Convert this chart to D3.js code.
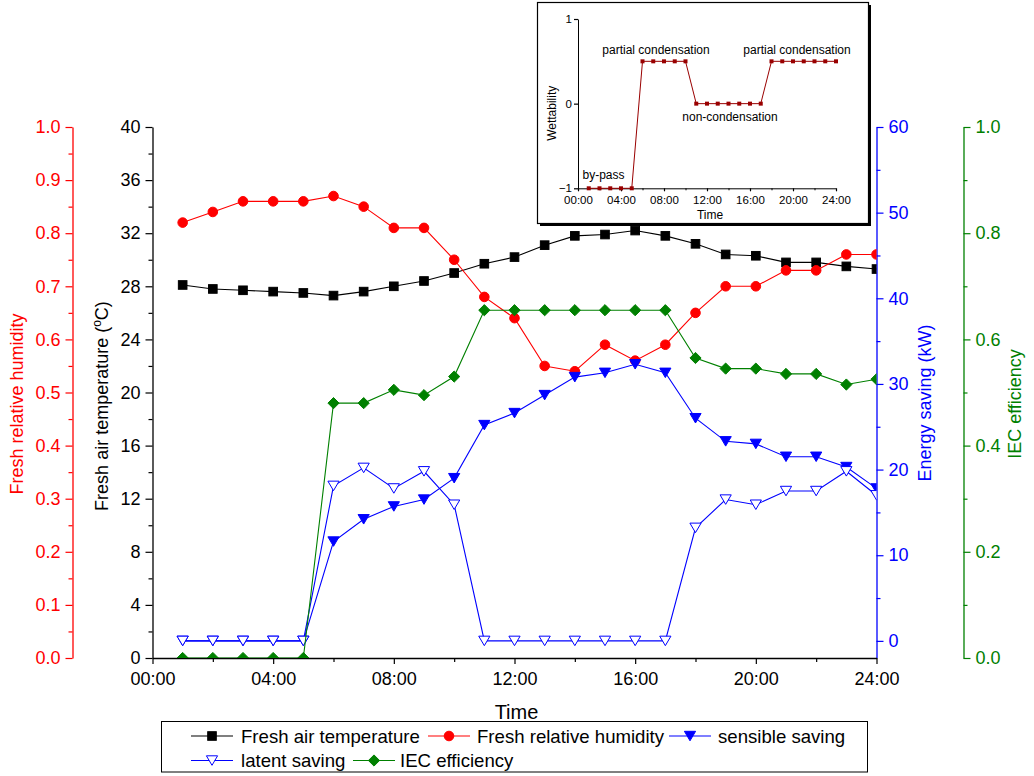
<!DOCTYPE html>
<html>
<head>
<meta charset="utf-8">
<script src="https://cdn.jsdelivr.net/npm/d3@7"></script>
<style>
  html, body { margin: 0; padding: 0; background: #fff; }
  svg { display: block; font-family: "Liberation Sans", Arial, sans-serif; }
</style>
</head>
<body>
<svg id="chart" width="1034" height="776"></svg>
<script>
// Hourly operating data (hour of day)
const hours = [1, 2, 3, 4, 5, 6, 7, 8, 9, 10, 11, 12, 13, 14, 15, 16, 17, 18, 19, 20, 21, 22, 23, 24];
const freshTemp = [28.1, 27.8, 27.7, 27.6, 27.5, 27.3, 27.6, 28.0, 28.4, 29.0, 29.7, 30.2, 31.1, 31.8, 31.9, 32.2, 31.8, 31.2, 30.4, 30.3, 29.8, 29.8, 29.5, 29.3];
const freshRH = [0.82, 0.84, 0.86, 0.86, 0.86, 0.87, 0.85, 0.81, 0.81, 0.75, 0.68, 0.64, 0.55, 0.54, 0.59, 0.56, 0.59, 0.65, 0.70, 0.70, 0.73, 0.73, 0.76, 0.76];
const sensibleSaving = [0, 0, 0, 0, 0, 11.6, 14.2, 15.7, 16.5, 19.0, 25.2, 26.6, 28.7, 30.8, 31.3, 32.3, 31.3, 26.0, 23.3, 23.0, 21.5, 21.5, 20.3, 17.8];
const latentSaving = [0, 0, 0, 0, 0, 18.1, 20.2, 17.8, 19.8, 15.9, 0, 0, 0, 0, 0, 0, 0, 13.2, 16.5, 15.9, 17.5, 17.5, 19.8, 17.0];
const iecEfficiency = [0, 0, 0, 0, 0, 0.48, 0.48, 0.505, 0.495, 0.53, 0.655, 0.655, 0.655, 0.655, 0.655, 0.655, 0.655, 0.565, 0.545, 0.545, 0.535, 0.535, 0.515, 0.525];
const wettability = [-1, -1, -1, -1, -1, 0.5, 0.5, 0.5, 0.5, 0.5, 0, 0, 0, 0, 0, 0, 0, 0.5, 0.5, 0.5, 0.5, 0.5, 0.5, 0.5];

// Tick values
const timeTicks = [0, 4, 8, 12, 16, 20, 24];
const tempTicks = [0, 4, 8, 12, 16, 20, 24, 28, 32, 36, 40];
const rhTicks = [0, 0.1, 0.2, 0.3, 0.4, 0.5, 0.6, 0.7, 0.8, 0.9, 1.0];
const energyTicks = [0, 10, 20, 30, 40, 50, 60];
const iecTicks = [0, 0.2, 0.4, 0.6, 0.8, 1.0];
const wetTicks = [-1, 0, 1];

const svg = d3.select("#chart");
const fmtTime = h => String(h).padStart(2, "0") + ":00";

// Main plot frame
const P = { left: 152.5, right: 876.5, top: 127, bottom: 658 };
const x = d3.scaleLinear().domain([0, 24]).range([P.left, P.right]);
const yT = d3.scaleLinear().domain([0, 40]).range([P.bottom, P.top]);
const yRH = d3.scaleLinear().domain([0, 1]).range([P.bottom, P.top]);
const yE = d3.scaleLinear().domain([-2, 60]).range([P.bottom, P.top]);
const yI = d3.scaleLinear().domain([0, 1]).range([P.bottom, P.top]);

svg.append("defs").append("clipPath").attr("id", "plotClip")
  .append("rect").attr("x", P.left).attr("y", P.top)
  .attr("width", P.right - P.left).attr("height", P.bottom - P.top);

function styleAxis(g, color, size) {
  g.select(".domain").attr("stroke", color).attr("stroke-width", 1.3);
  g.selectAll(".tick line").attr("stroke", color).attr("stroke-width", 1.2);
  g.selectAll(".tick text").attr("fill", color).style("font-size", size + "px")
    .style("font-family", '"Liberation Sans", Arial, sans-serif');
}
function minorBetween(ticks) {
  const out = [];
  for (let i = 0; i < ticks.length - 1; i++) out.push((ticks[i] + ticks[i + 1]) / 2);
  return out;
}

function addAxis(axisFn, scale, ticks, fmt, tx, ty, color, size, pad, major, minor, minorTicks) {
  const gMin = svg.append("g").attr("transform", `translate(${tx},${ty})`)
    .call(axisFn(scale).tickValues(minorTicks).tickSize(minor).tickFormat(""));
  styleAxis(gMin, color, size);
  gMin.select(".domain").remove();
  const g = svg.append("g").attr("transform", `translate(${tx},${ty})`)
    .call(axisFn(scale).tickValues(ticks).tickSize(major).tickSizeOuter(0).tickPadding(pad).tickFormat(fmt));
  styleAxis(g, color, size);
  return g;
}

// Left axes: temperature (black) and relative humidity (red)
addAxis(d3.axisLeft, yT, tempTicks, d3.format("d"), P.left, 0, "#000", 18, 5, 7, 4, minorBetween(tempTicks));
addAxis(d3.axisLeft, yRH, rhTicks, d3.format(".1f"), 72.5, 0, "#ff0000", 18, 5, 7, 4, minorBetween(rhTicks));
// Right axes: energy saving (blue) and IEC efficiency (green)
addAxis(d3.axisRight, yE, energyTicks, d3.format("d"), P.right, 0, "#0000ff", 18, 5, 7, 4, minorBetween(energyTicks));
addAxis(d3.axisRight, yI, iecTicks, d3.format(".1f"), 963.5, 0, "#008000", 18, 5, 7, 4, minorBetween(iecTicks));
// Bottom time axis
addAxis(d3.axisBottom, x, timeTicks, fmtTime, 0, P.bottom, "#000", 18, 8, 6, 4, minorBetween(timeTicks));

// Axis titles
function vTitle(tx, ty, color, build) {
  const t = svg.append("text").attr("transform", `translate(${tx},${ty}) rotate(-90)`)
    .attr("text-anchor", "middle").attr("fill", color).style("font-size", "18px");
  build(t);
}
vTitle(23, 404, "#ff0000", t => t.text("Fresh relative humidity"));
vTitle(108, 406, "#000", t => {
  t.append("tspan").text("Fresh air temperature (");
  t.append("tspan").attr("baseline-shift", "super").style("font-size", "12px").text("o");
  t.append("tspan").text("C)");
});
vTitle(931, 403, "#0000ff", t => t.text("Energy saving (kW)"));
vTitle(1021, 404, "#008000", t => t.text("IEC efficiency"));
svg.append("text").attr("x", (P.left + P.right) / 2 + 2).attr("y", 719)
  .attr("text-anchor", "middle").style("font-size", "20px").text("Time");

// Marker shapes
const markers = {
  square: g => g.append("rect").attr("x", -4.3).attr("y", -4.3).attr("width", 8.6).attr("height", 8.6),
  circle: g => g.append("circle").attr("r", 4.8),
  triDown: g => g.append("path").attr("d", "M-5.6,-4.7L5.6,-4.7L0,4.8Z"),
  diamond: g => g.append("path").attr("d", "M0,-5.6L5.6,0L0,5.6L-5.6,0Z")
};

const series = [
  { name: "Fresh air temperature", values: freshTemp, y: yT, color: "#000000", marker: "square", fill: "#000000" },
  { name: "Fresh relative humidity", values: freshRH, y: yRH, color: "#ff0000", marker: "circle", fill: "#ff0000" },
  { name: "sensible saving", values: sensibleSaving, y: yE, color: "#0000ff", marker: "triDown", fill: "#0000ff" },
  { name: "latent saving", values: latentSaving, y: yE, color: "#0000ff", marker: "triDown", fill: "#ffffff" },
  { name: "IEC efficiency", values: iecEfficiency, y: yI, color: "#008000", marker: "diamond", fill: "#008000" }
];

const plot = svg.append("g").attr("clip-path", "url(#plotClip)");
series.forEach(s => {
  const pts = hours.map((h, i) => [h, s.values[i]]);
  const g = plot.append("g");
  g.append("path").datum(pts)
    .attr("fill", "none").attr("stroke", s.color).attr("stroke-width", 1.1)
    .attr("d", d3.line().x(d => x(d[0])).y(d => s.y(d[1])));
  pts.forEach(d => {
    const m = g.append("g").attr("transform", `translate(${x(d[0])},${s.y(d[1])})`);
    markers[s.marker](m).attr("fill", s.fill).attr("stroke", s.color).attr("stroke-width", 1);
  });
});

// Legend
const legend = svg.append("g");
legend.append("rect").attr("x", 161.5).attr("y", 721.5).attr("width", 706).attr("height", 50.5)
  .attr("fill", "#fff").attr("stroke", "#000").attr("stroke-width", 1);
const legendPos = [
  { cx: 212, tx: 241, cy: 736 },
  { cx: 449, tx: 477, cy: 736 },
  { cx: 690, tx: 718, cy: 736 },
  { cx: 212, tx: 241, cy: 760.5 },
  { cx: 374, tx: 400, cy: 760.5 }
];
series.forEach((s, i) => {
  const p = legendPos[i];
  legend.append("line").attr("x1", p.cx - 21).attr("x2", p.cx + 21).attr("y1", p.cy).attr("y2", p.cy)
    .attr("stroke", s.color).attr("stroke-width", 1.1);
  const m = legend.append("g").attr("transform", `translate(${p.cx},${p.cy})`);
  markers[s.marker](m).attr("fill", s.fill).attr("stroke", s.color).attr("stroke-width", 1);
  legend.append("text").attr("x", p.tx).attr("y", p.cy).attr("dy", "0.36em")
    .style("font-size", "18.6px").text(s.name);
});

// Inset: wettability regime
const inset = svg.append("g");
inset.append("rect").attr("x", 540).attr("y", 5).attr("width", 331).attr("height", 221).attr("fill", "#000");
inset.append("rect").attr("x", 537.5).attr("y", 2.5).attr("width", 331).attr("height", 221)
  .attr("fill", "#fff").attr("stroke", "#000").attr("stroke-width", 1.2);

const xIn = d3.scaleLinear().domain([0, 24]).range([578, 836]);
const yIn = d3.scaleLinear().domain([-1, 1]).range([188.3, 19]);

const gInY = inset.append("g").attr("transform", "translate(578,0)")
  .call(d3.axisLeft(yIn).tickValues(wetTicks).tickSize(4).tickSizeOuter(0).tickPadding(2).tickFormat(d3.format("d")));
styleAxis(gInY, "#000", 11.5);
gInY.select(".domain").attr("stroke-width", 1);
gInY.selectAll(".tick text").attr("dy", "0.3em");
const gInXm = inset.append("g").attr("transform", "translate(0,188.3)")
  .call(d3.axisBottom(xIn).tickValues(minorBetween(timeTicks)).tickSize(2).tickFormat(""));
gInXm.select(".domain").remove();
const gInX = inset.append("g").attr("transform", "translate(0,188.3)")
  .call(d3.axisBottom(xIn).tickValues(timeTicks).tickSize(3).tickSizeOuter(0).tickPadding(4.5).tickFormat(fmtTime));
styleAxis(gInX, "#000", 11.5);
gInX.select(".domain").attr("stroke-width", 1);

const wetPts = hours.map((h, i) => [h, wettability[i]]);
inset.append("path").datum(wetPts).attr("fill", "none").attr("stroke", "#990000").attr("stroke-width", 1)
  .attr("d", d3.line().x(d => xIn(d[0])).y(d => yIn(d[1])));
inset.selectAll("rect.wm").data(wetPts).join("rect").attr("class", "wm")
  .attr("x", d => xIn(d[0]) - 2).attr("y", d => yIn(d[1]) - 2)
  .attr("width", 4).attr("height", 4).attr("fill", "#990000");

const insetFont = "12px";
const insetLabels = [
  { t: "partial condensation", x: 656, y: 53.5 },
  { t: "partial condensation", x: 797, y: 53.5 },
  { t: "non-condensation", x: 730, y: 121 },
  { t: "by-pass", x: 603.5, y: 179 },
  { t: "Time", x: 710, y: 219 }
];
insetLabels.forEach(l => inset.append("text").attr("x", l.x).attr("y", l.y)
  .attr("text-anchor", "middle").style("font-size", insetFont).text(l.t));
inset.append("text").attr("transform", "translate(555.5,113.3) rotate(-90)")
  .attr("text-anchor", "middle").style("font-size", insetFont).text("Wettability");
</script>
</body>
</html>
